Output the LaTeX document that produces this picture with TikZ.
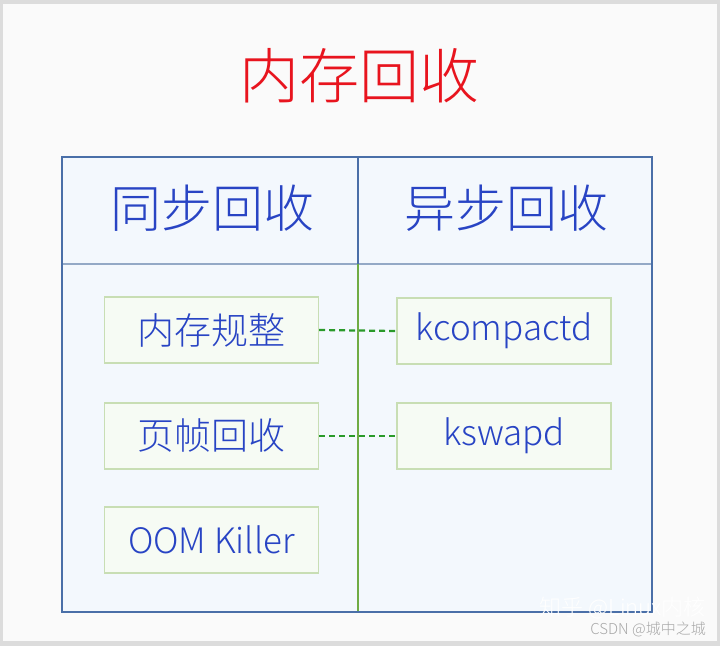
\documentclass[tikz,border=0pt]{standalone}
\usepackage{fontspec}
\newfontfamily\cjk{Noto Sans CJK SC Light}
\definecolor{pagebg}{HTML}{FAFAFA}
\definecolor{frame}{HTML}{DCDCDC}
\definecolor{titlered}{HTML}{E8141E}
\definecolor{txtblue}{HTML}{2844C4}
\definecolor{tblborder}{HTML}{4A6FA8}
\definecolor{tblfill}{HTML}{F3F8FD}
\definecolor{hdrline}{HTML}{93A9C6}
\definecolor{divgreen}{HTML}{70AC44}
\definecolor{boxborder}{HTML}{C8DEB4}
\definecolor{boxfill}{HTML}{F6FBF4}
\definecolor{dashgreen}{HTML}{2A9A2A}
\definecolor{wm}{HTML}{A8A8A8}
\tikzset{
  itembox/.style={draw=boxborder, line width=1.2pt, fill=boxfill, minimum width=214pt, minimum height=66pt, inner sep=0pt, text=txtblue},
  zhtext/.style={font=\cjk\fontsize{37}{40}\selectfont},
  latext/.style={font=\cjk\fontsize{35}{38}\selectfont},
  hdrtext/.style={font=\cjk\fontsize{51}{54}\selectfont, text=txtblue, inner sep=0pt},
  link/.style={draw=dashgreen, line width=2.2pt, dash pattern=on 6pt off 4pt},
}
\begin{document}
\begin{tikzpicture}[x=1pt,y=-1pt]
\useasboundingbox (0,0) rectangle (720,646);
\fill[frame] (0,0) rectangle (720,646);
\fill[pagebg] (3,4) rectangle (717,641);
\node[font=\cjk\fontsize{60}{64}\selectfont, text=titlered, inner sep=0pt] (title) at (359,76) {内存回收};
% table
\fill[tblfill] (62,157) rectangle (652,612);
\draw[hdrline, line width=2.5pt] (62,264) -- (652,264);
\draw[divgreen, line width=1.6pt] (358,264) -- (358,612);
\draw[tblborder, line width=1.4pt] (358,157) -- (358,264);
\draw[tblborder, line width=1.6pt] (62,157) rectangle (652,612);
\node[hdrtext] (sync) at (212,208) {同步回收};
\node[hdrtext] (async) at (506,208) {异步回收};
% boxes
\node[itembox, zhtext] (compact) at (211.5,330) {内存规整};
\node[itembox, zhtext] (reclaim) at (211.5,436) {页帧回收};
\node[itembox, latext] (oom) at (211.5,540) {OOM Killer};
\node[itembox, latext] (kcompactd) at (504,331) {kcompactd};
\node[itembox, latext] (kswapd) at (504,436) {kswapd};
\draw[link] (compact.east) -- (kcompactd.west);
\draw[link] (reclaim.east) -- (kswapd.west);
% watermarks
\node[font=\cjk\fontsize{22}{24}\selectfont, text=white, inner sep=0pt, anchor=east] (wm1) at (706,608) {知乎 @Linux内核};
\node[font=\cjk\fontsize{15}{17}\selectfont, text=wm, inner sep=0pt, anchor=east] (wm2) at (706,629) {CSDN @城中之城};
\end{tikzpicture}
\end{document}
